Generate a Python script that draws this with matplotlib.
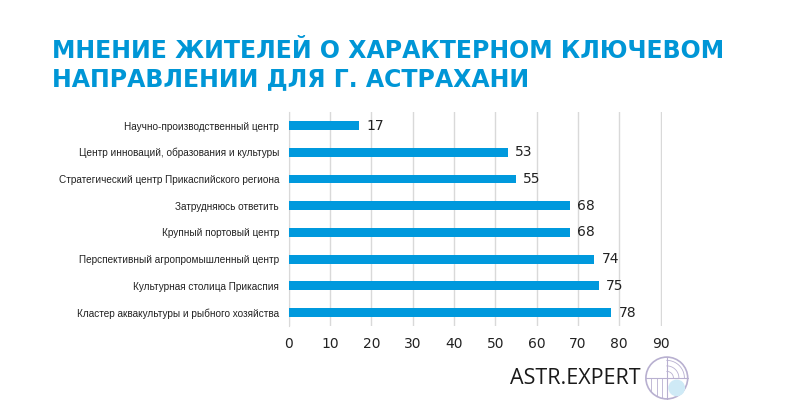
import matplotlib.pyplot as plt
from matplotlib.patches import Circle
import numpy as np

categories = [
    "Научно-производственный центр",
    "Центр инноваций, образования и культуры",
    "Стратегический центр Прикаспийского региона",
    "Затрудняюсь ответить",
    "Крупный портовый центр",
    "Перспективный агропромышленный центр",
    "Культурная столица Прикаспия",
    "Кластер аквакультуры и рыбного хозяйства",
]
values = [17, 53, 55, 68, 68, 74, 75, 78]
xticks = [0, 10, 20, 30, 40, 50, 60, 70, 80, 90]

title = "МНЕНИЕ ЖИТЕЛЕЙ О ХАРАКТЕРНОМ КЛЮЧЕВОМ\nНАПРАВЛЕНИИ ДЛЯ Г. АСТРАХАНИ"
blue = "#0099DD"

plt.rcParams['font.family'] = ['DejaVu Sans']

fig = plt.figure(figsize=(8, 4.2), dpi=100)
ax = fig.add_axes([0.361, 0.224, 0.4662, 0.509])

y = np.arange(len(categories))
ax.barh(y, values, height=0.33, color=blue, zorder=3)
for yi, v in zip(y, values):
    ax.text(v + 1.8, yi, str(v), va='center', ha='left', fontsize=10, color='#222222')

ax.set_yticks(y)
ax.set_yticklabels(categories, fontsize=7.2, color='#222222', family='Liberation Sans')
ax.set_ylim(len(categories) - 0.5, -0.5)
ax.set_xlim(0, 90.3)
ax.set_xticks(xticks)
ax.set_xticklabels([str(t) for t in xticks], fontsize=10, color='#222222')
ax.tick_params(length=0, pad=8)
ax.tick_params(axis='y', pad=7)
ax.grid(axis='x', color='#d9d9d9', linewidth=1, zorder=0)
for s in ['top', 'right', 'bottom']:
    ax.spines[s].set_visible(False)
ax.spines['left'].set_color('#d9d9d9')

fig.text(0.065, 0.845, title, fontsize=17, fontweight='bold', color='#0096D6',
         va='center', ha='left', linespacing=1.25)

# logo
fig.text(0.637, 0.1, "ASTR.EXPERT", fontsize=15.5, color='#1a1a1a', va='center', ha='left',
         family='Open Sans')
lax = fig.add_axes([0.806, 0.045, 0.055, 0.11])
lax.set_xlim(-1, 1)
lax.set_ylim(-1, 1)
lax.set_aspect('equal')
lax.axis('off')
lax.add_patch(Circle((0, 0), 0.95, fill=False, edgecolor='#b8b0d0', linewidth=1.2))
lax.plot([-0.95, 0.95], [0, 0], color='#b8b0d0', linewidth=0.8)
lax.plot([0, 0], [-0.95, 0.95], color='#b8b0d0', linewidth=0.8)
for r in [0.3, 0.55, 0.8]:
    t = np.linspace(0, np.pi / 2, 30)
    lax.plot(r * np.cos(t), r * np.sin(t), color='#b8b0d0', linewidth=0.6)
for xx in [-0.7, -0.45, -0.2]:
    h = np.sqrt(0.95 ** 2 - xx ** 2)
    lax.plot([xx, xx], [-h, 0], color='#b8b0d0', linewidth=0.6)
lax.add_patch(Circle((0.45, -0.45), 0.38, color='#cfeaf6', linewidth=0))

fig.savefig("out.png", dpi=100, facecolor='white')
